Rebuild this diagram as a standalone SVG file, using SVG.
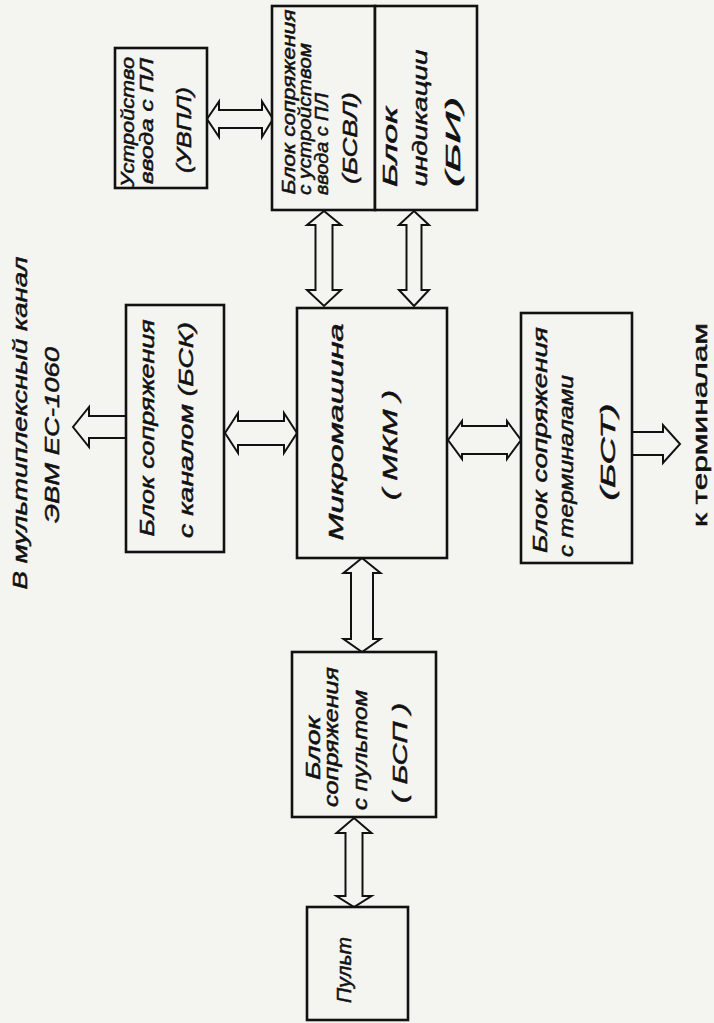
<svg xmlns="http://www.w3.org/2000/svg" width="714" height="1023" viewBox="0 0 714 1023">
<style>
.box{fill:#f4f4f1;stroke:#111;stroke-width:2.6}
.arr{fill:#f4f4f1;stroke:#111;stroke-width:2;stroke-linejoin:miter}
.t{font-family:"Liberation Sans",Arial,sans-serif;font-style:italic;font-size:20px;fill:#111;stroke:#111;stroke-width:0.5;dominant-baseline:central;text-anchor:middle}
.s{font-size:18px}
.u{font-style:normal}
</style>
<rect width="714" height="1023" fill="#f4f4f1"/>
<g id="connectors">
<polygon class="arr" points="207,119 219,101.5 219,110 262,110 262,101.5 273,119 262,137 262,128 219,128 219,137"/>
<polygon class="arr" points="324,211 341,225 332.5,225 332.5,290 341,290 324,306 307,290 315.5,290 315.5,225 307,225"/>
<polygon class="arr" points="414,211 429,225 421.5,225 421.5,290 429,290 414,306 399,290 406.5,290 406.5,225 399,225"/>
<polygon class="arr" points="225,433 238,413 238,421 284,421 284,413 297,433 284,453 284,445 238,445 238,453"/>
<polygon class="arr" points="448,440 462,421 462,426 507,426 507,421 521,440 507,459 507,454 462,454 462,459"/>
<polygon class="arr" points="362,558 380.5,573 373,573 373,639 380.5,639 362,652 343.5,639 351,639 351,573 343.5,573"/>
<polygon class="arr" points="354,818 371.5,833 362.5,833 362.5,896 371.5,896 354,907 336.5,896 345.5,896 345.5,833 336.5,833"/>
<path class="arr" d="M126,416 H89 V407 L73,427 L89,447 V438 H126"/>
<path class="arr" d="M632,432 H663 V425 L680,444 L663,463 V455 H632"/>
</g>
<g id="uvpl">
<rect class="box" x="115" y="48" width="92" height="140"/>
<text class="t s" transform="translate(128,122) rotate(-90)" textLength="130" lengthAdjust="spacingAndGlyphs">Устройство</text>
<text class="t s" transform="translate(147,121) rotate(-90)" textLength="126" lengthAdjust="spacingAndGlyphs">ввода с ПЛ</text>
<text class="t" transform="translate(184,130) rotate(-90)" textLength="86" lengthAdjust="spacingAndGlyphs">(УВПЛ)</text>
</g>
<g id="bsvl">
<rect class="box" x="272" y="6" width="103" height="204"/>
<text class="t s" transform="translate(289,102) rotate(-90)" textLength="185" lengthAdjust="spacingAndGlyphs">Блок сопряжения</text>
<text class="t s" transform="translate(305,119) rotate(-90)" textLength="152" lengthAdjust="spacingAndGlyphs">с устройством</text>
<text class="t s" transform="translate(322,144) rotate(-90)" textLength="102" lengthAdjust="spacingAndGlyphs">ввода с ПЛ</text>
<text class="t" transform="translate(350,138) rotate(-90)" textLength="92" lengthAdjust="spacingAndGlyphs">(БСВЛ)</text>
</g>
<g id="bi">
<rect class="box" x="375" y="6" width="102" height="204"/>
<text class="t" transform="translate(390,147) rotate(-90)" textLength="80" lengthAdjust="spacingAndGlyphs">Блок</text>
<text class="t" transform="translate(420,118) rotate(-90)" textLength="137" lengthAdjust="spacingAndGlyphs">индикации</text>
<text class="t" transform="translate(453,142) rotate(-90)" textLength="90" lengthAdjust="spacingAndGlyphs">(БИ)</text>
</g>
<g id="bsk">
<rect class="box" x="126" y="305" width="98" height="247"/>
<text class="t" transform="translate(147,428) rotate(-90)" textLength="217" lengthAdjust="spacingAndGlyphs">Блок сопряжения</text>
<text class="t" transform="translate(186,430) rotate(-90)" textLength="216" lengthAdjust="spacingAndGlyphs">с каналом (БСК)</text>
</g>
<g id="mkm">
<rect class="box" x="297" y="308" width="150" height="250"/>
<text class="t" transform="translate(336,432) rotate(-90)" textLength="217" lengthAdjust="spacingAndGlyphs">Микромашина</text>
<text class="t" transform="translate(390,445) rotate(-90)" textLength="110" lengthAdjust="spacingAndGlyphs">( МКМ )</text>
</g>
<g id="bst">
<rect class="box" x="521" y="313" width="111" height="250"/>
<text class="t" transform="translate(540,440) rotate(-90)" textLength="226" lengthAdjust="spacingAndGlyphs">Блок сопряжения</text>
<text class="t" transform="translate(566,466) rotate(-90)" textLength="182" lengthAdjust="spacingAndGlyphs">с терминалами</text>
<text class="t" transform="translate(608,452) rotate(-90)" textLength="97" lengthAdjust="spacingAndGlyphs">(БСТ)</text>
</g>
<g id="bsp">
<rect class="box" x="292" y="652" width="144" height="165"/>
<text class="t" transform="translate(313,748) rotate(-90)" textLength="64" lengthAdjust="spacingAndGlyphs">Блок</text>
<text class="t" transform="translate(331,737) rotate(-90)" textLength="140" lengthAdjust="spacingAndGlyphs">сопряжения</text>
<text class="t" transform="translate(360,750) rotate(-90)" textLength="120" lengthAdjust="spacingAndGlyphs">с пультом</text>
<text class="t" transform="translate(400,753) rotate(-90)" textLength="100" lengthAdjust="spacingAndGlyphs">( БСП )</text>
</g>
<g id="pult">
<rect class="box" x="307" y="907" width="101" height="113"/>
<text class="t" transform="translate(344,970) rotate(-90)" textLength="66" lengthAdjust="spacingAndGlyphs">Пульт</text>
</g>
<g id="labels">
<text class="t" transform="translate(20,423) rotate(-90)" textLength="333" lengthAdjust="spacingAndGlyphs">В мультиплексный канал</text>
<text class="t" transform="translate(52,435) rotate(-90)" textLength="176" lengthAdjust="spacingAndGlyphs">ЭВМ ЕС-1060</text>
<text class="t u" transform="translate(700,425) rotate(-90)" textLength="204" lengthAdjust="spacingAndGlyphs">к терминалам</text>
</g>
</svg>
